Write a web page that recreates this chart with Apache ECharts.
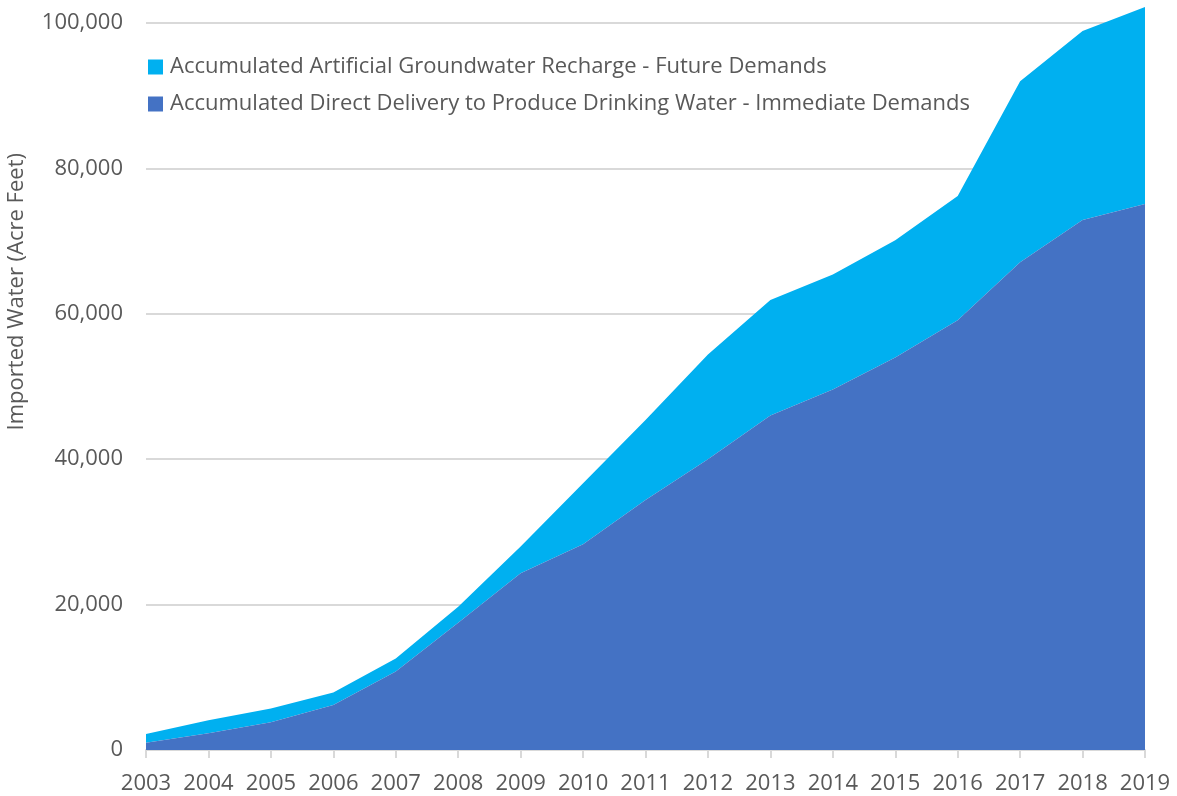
<!DOCTYPE html>
<html>
<head>
<meta charset="utf-8">
<script src="https://cdn.jsdelivr.net/npm/echarts@6/dist/echarts.min.js"></script>
<style>
  html, body { margin: 0; padding: 0; background: #fff; }
  #chart { width: 1177px; height: 796px; }
</style>
</head>
<body>
<div id="chart"></div>
<script>
// Years on the category axis
const years = ['2003','2004','2005','2006','2007','2008','2009','2010','2011',
               '2012','2013','2014','2015','2016','2017','2018','2019'];

// Accumulated direct delivery (acre feet) - bottom layer
const directDelivery = [1000, 2300, 3800, 6200, 10800, 17500, 24300, 28300, 34400,
                        40000, 46000, 49600, 54000, 59100, 67100, 72900, 75100];

// Accumulated artificial recharge (acre feet) - stacked on top
const recharge = [1200, 1800, 1900, 1700, 1800, 2200, 3700, 8400, 11000,
                  14400, 15900, 15800, 16100, 17100, 24900, 26000, 27100];

const seriesNames = [
  'Accumulated Artificial Groundwater Recharge - Future Demands',
  'Accumulated Direct Delivery to Produce Drinking Water - Immediate Demands'
];

const yTitle = 'Imported Water (Acre Feet)';
const FONT = '"Open Sans", sans-serif';
const TEXT = '#595959';

const chart = echarts.init(document.getElementById('chart'), null, { renderer: 'canvas' });

chart.setOption({
  animation: false,
  textStyle: { fontFamily: FONT },
  grid: { left: 146, right: 32, top: 23, bottom: 46, containLabel: false },
  legend: {
    orient: 'vertical',
    left: 143,
    top: 51,
    itemWidth: 15,
    itemHeight: 15,
    itemGap: 15,
    icon: 'rect',
    data: seriesNames,
    textStyle: { color: TEXT, fontSize: 22, lineHeight: 22, fontFamily: FONT, padding: [0, 0, 0, 2] }
  },
  xAxis: {
    type: 'category',
    data: years,
    boundaryGap: false,
    axisLine: { lineStyle: { color: '#d9d9d9', width: 2 } },
    axisTick: { show: true, interval: 0, length: 8, lineStyle: { color: '#d9d9d9', width: 2 } },
    axisLabel: { interval: 0, color: TEXT, fontSize: 22, fontFamily: FONT, margin: 23 },
    splitLine: { show: false }
  },
  yAxis: {
    type: 'value',
    min: 0,
    max: 100000,
    interval: 20000,
    axisLine: { show: false },
    axisTick: { show: false },
    axisLabel: {
      color: TEXT, fontSize: 22, fontFamily: FONT, margin: 23,
      formatter: v => v.toLocaleString('en-US')
    },
    splitLine: { lineStyle: { color: '#d9d9d9', width: 2 } }
  },
  graphic: [{
    type: 'text',
    left: 6,
    top: 153,
    rotation: Math.PI / 2,
    style: { text: yTitle, fill: TEXT, fontSize: 22, fontFamily: FONT }
  }],
  series: [
    {
      name: seriesNames[1],
      type: 'line',
      stack: 'total',
      data: directDelivery,
      clip: false,
      symbol: 'none',
      lineStyle: { width: 0 },
      itemStyle: { color: '#4472C4' },
      areaStyle: { color: '#4472C4', opacity: 1 },
      z: 3
    },
    {
      name: seriesNames[0],
      type: 'line',
      stack: 'total',
      data: recharge,
      clip: false,
      symbol: 'none',
      lineStyle: { width: 0 },
      itemStyle: { color: '#00B0F0' },
      areaStyle: { color: '#00B0F0', opacity: 1 },
      z: 2
    }
  ]
});
</script>
</body>
</html>
